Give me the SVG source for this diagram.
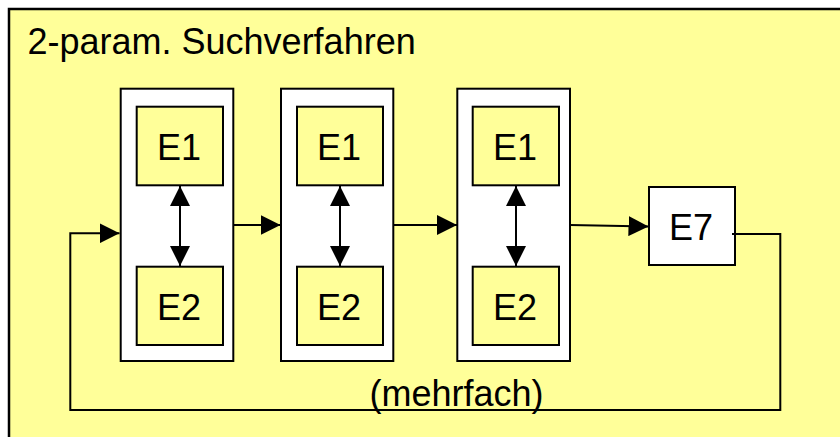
<svg xmlns="http://www.w3.org/2000/svg" width="840" height="437" viewBox="0 0 840 437">
  <style>
    .frame { fill: #FFFF99; stroke: #000; stroke-width: 2.5; }
    .stage { fill: #FFFFFF; stroke: #000; stroke-width: 2; }
    .elem { fill: #FFFF99; stroke: #000; stroke-width: 2; }
    .white { fill: #FFFFFF; stroke: #000; stroke-width: 2; }
    .lbl { font-family: "Liberation Sans", Arial, sans-serif; font-size: 36px; fill: #000; }
    .mid { text-anchor: middle; }
    .wire { fill: none; stroke: #000; stroke-width: 2; }
  </style>
  <defs>
    <marker id="head" viewBox="0 0 20 20" refX="20" refY="10" markerWidth="20" markerHeight="20" markerUnits="userSpaceOnUse" orient="auto-start-reverse">
      <path d="M0,0 L20,10 L0,20 Z" fill="#000"/>
    </marker>
  </defs>

  <rect width="840" height="437" fill="#FFFFFF"/>

  <!-- outer frame with title -->
  <g id="frame">
    <rect class="frame" x="9" y="9" width="845" height="445"/>
    <text class="lbl" x="27.5" y="54">2-param. Suchverfahren</text>
  </g>

  <!-- stage 1 -->
  <g id="stage1">
    <rect class="stage" x="120.7" y="88.7" width="112.6" height="272.3"/>
    <g id="stage1-e1">
      <rect class="elem" x="136.7" y="106.7" width="86.3" height="78.6"/>
      <text class="lbl mid" x="179" y="160">E1</text>
    </g>
    <g id="stage1-e2">
      <rect class="elem" x="136.7" y="266.7" width="86.3" height="78.3"/>
      <text class="lbl mid" x="179" y="320">E2</text>
    </g>
  </g>

  <!-- stage 2 -->
  <g id="stage2">
    <rect class="stage" x="281" y="88.7" width="112.3" height="272.3"/>
    <g id="stage2-e1">
      <rect class="elem" x="297" y="106.7" width="86" height="78.6"/>
      <text class="lbl mid" x="339" y="160">E1</text>
    </g>
    <g id="stage2-e2">
      <rect class="elem" x="297" y="266.7" width="86" height="78.3"/>
      <text class="lbl mid" x="339" y="320">E2</text>
    </g>
  </g>

  <!-- stage 3 -->
  <g id="stage3">
    <rect class="stage" x="457.3" y="88.7" width="112.7" height="272.3"/>
    <g id="stage3-e1">
      <rect class="elem" x="472.7" y="106.7" width="86.3" height="78.6"/>
      <text class="lbl mid" x="515" y="160">E1</text>
    </g>
    <g id="stage3-e2">
      <rect class="elem" x="472.7" y="266.7" width="86.3" height="78.3"/>
      <text class="lbl mid" x="515" y="320">E2</text>
    </g>
  </g>

  <!-- final element -->
  <g id="e7">
    <rect class="white" x="649" y="187" width="86" height="78"/>
    <text class="lbl mid" x="691" y="240">E7</text>
  </g>

  <!-- connectors -->
  <g id="connectors">
    <line class="wire" x1="180" y1="186" x2="180" y2="266" marker-start="url(#head)" marker-end="url(#head)"/>
    <line class="wire" x1="340" y1="186" x2="340" y2="266" marker-start="url(#head)" marker-end="url(#head)"/>
    <line class="wire" x1="516" y1="186" x2="516" y2="266" marker-start="url(#head)" marker-end="url(#head)"/>
    <line class="wire" x1="233.3" y1="225" x2="280.5" y2="225" marker-end="url(#head)"/>
    <line class="wire" x1="393.3" y1="225" x2="457" y2="225" marker-end="url(#head)"/>
    <line class="wire" x1="570" y1="225" x2="648.5" y2="226.5" marker-end="url(#head)"/>
    <polyline class="wire" points="732,234 780.3,234 780.3,410 70.3,410 70.3,233.3 119.5,233.3" marker-end="url(#head)"/>
    <text class="lbl" x="369.5" y="406">(mehrfach)</text>
  </g>
</svg>
